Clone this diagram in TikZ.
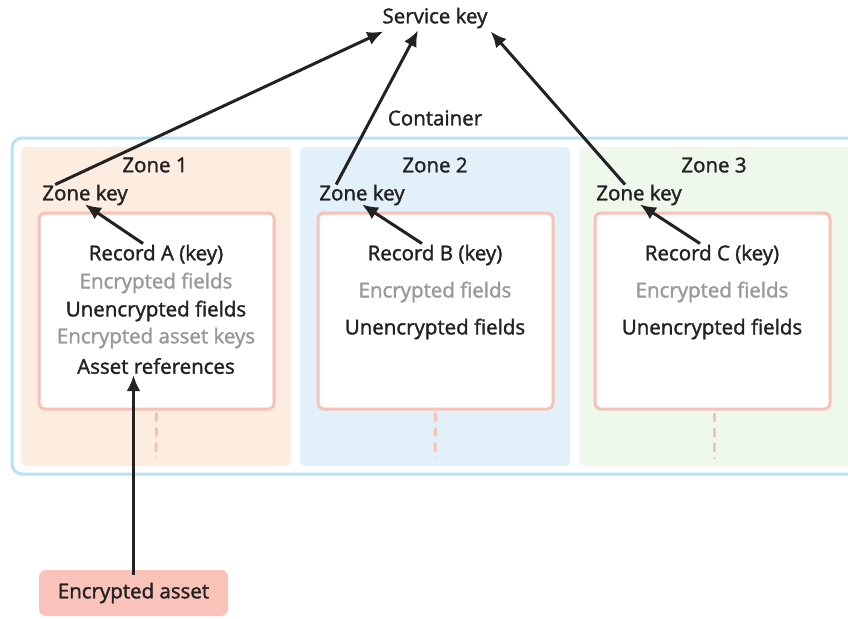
\documentclass[tikz,border=0pt]{standalone}
\usepackage{fontspec}
\setmainfont{Open Sans}[UprightFeatures={FakeBold=1.6}]
\usepackage{tikz}
\usetikzlibrary{positioning}
\usetikzlibrary{arrows.meta}

\definecolor{inkdark}{HTML}{222222}
\definecolor{inkgray}{HTML}{999999}
\definecolor{ctrblue}{HTML}{B6E2F8}
\definecolor{zonepeach}{HTML}{FDEDE0}
\definecolor{zoneblue}{HTML}{E1F0F9}
\definecolor{zonegreen}{HTML}{EEF9EC}
\definecolor{recpink}{HTML}{F8C1B7}
\definecolor{assetpink}{HTML}{F9C3BA}

\tikzset{
  lbl/.style = {text=inkdark, font=\fontsize{20.5}{23}\selectfont, inner sep=1pt},
  dim/.style = {lbl, text=inkgray},
  zone/.style = {rounded corners=5pt, minimum width=270pt, minimum height=319pt, inner sep=0pt},
  record/.style = {draw=recpink, line width=3pt, fill=white, rounded corners=6pt, minimum width=235pt, minimum height=196pt, inner sep=0pt},
  keyarrow/.style = {line width=3pt, inkdark, -{Latex[length=16pt,width=14pt]}},
  link/.style = {recpink, line width=3pt, dash pattern=on 9pt off 6pt}
}

\begin{document}
\begin{tikzpicture}[x=1pt, y=-1pt]
    \useasboundingbox (0,0) rectangle (848,618);

    % container and zones
    \draw[ctrblue, line width=3pt, rounded corners=10pt] (12,138) rectangle (880,474);
    \node[zone, fill=zonepeach] (z1) at (156,306.5) {};
    \node[zone, fill=zoneblue] (z2) at (435,306.5) {};
    \node[zone, fill=zonegreen, minimum width=290pt] (z3) at (724,306.5) {};

    \node[lbl] (svc) at (435,18) {Service key};
    \node[lbl] (ctr) at (435,118) {Container};

    \node[lbl] (z1name) at (155,165) {Zone 1};
    \node[lbl] (z2name) at (435,165) {Zone 2};
    \node[lbl] (z3name) at (714,165) {Zone 3};

    \node[lbl] (zk1) at (85,195) {Zone key};
    \node[lbl] (zk2) at (362,195) {Zone key};
    \node[lbl] (zk3) at (639,195) {Zone key};

    % records
    \node[record] (rA) at (156.5,311) {};
    \node[record] (rB) at (435.5,311) {};
    \node[record] (rC) at (712.5,311) {};

    \node[lbl] (tA) at (156,255) {Record A (key)};
    \node[dim] (encA) at (156,283) {Encrypted fields};
    \node[lbl] (unA) at (156,311) {Unencrypted fields};
    \node[dim] (akA) at (156,338) {Encrypted asset keys};
    \node[lbl] (refA) at (156,366) {Asset references};

    \node[lbl] (tB) at (435,255) {Record B (key)};
    \node[dim] (encB) at (435,292) {Encrypted fields};
    \node[lbl] (unB) at (435,329) {Unencrypted fields};

    \node[lbl] (tC) at (712,255) {Record C (key)};
    \node[dim] (encC) at (712,292) {Encrypted fields};
    \node[lbl] (unC) at (712,329) {Unencrypted fields};

    % dashed links below records
    \coordinate (dA) at (156,458);
    \coordinate (dB) at (435,458);
    \coordinate (dC) at (714,458);
    \draw[link] (rA.south) ++(0,2) -- (dA);
    \draw[link] (rB.south) ++(0,2) -- (dB);
    \draw[link] ([xshift=1.5pt]rC.south) ++(0,2) -- (dC);

    \node[lbl, fill=assetpink, rounded corners=7pt, minimum width=189pt, minimum height=46pt] (asset) at (133.5,593) {Encrypted asset};

    % arrows
    \draw[keyarrow] ([xshift=-13pt]tA.north) -- ([xshift=0pt,yshift=2pt]zk1.south);
    \draw[keyarrow] ([xshift=-13pt]tB.north) -- ([yshift=2pt]zk2.south);
    \draw[keyarrow] ([xshift=-12pt]tC.north) -- ([xshift=1pt,yshift=2pt]zk3.south);

    \draw[keyarrow] ([xshift=14pt,yshift=-1pt]zk1.north west) -- ([xshift=2pt,yshift=-2pt]svc.south west);
    \draw[keyarrow] ([xshift=18pt,yshift=-1pt]zk2.north west) -- ([xshift=-17pt,yshift=-1pt]svc.south);
    \draw[keyarrow] ([xshift=-14pt,yshift=-1pt]zk3.north) -- ([xshift=2pt,yshift=-2pt]svc.south east);

    \draw[keyarrow] ([yshift=-5pt]asset.north) -- ([xshift=-22.5pt,yshift=0pt]refA.south);
\end{tikzpicture}
\end{document}
